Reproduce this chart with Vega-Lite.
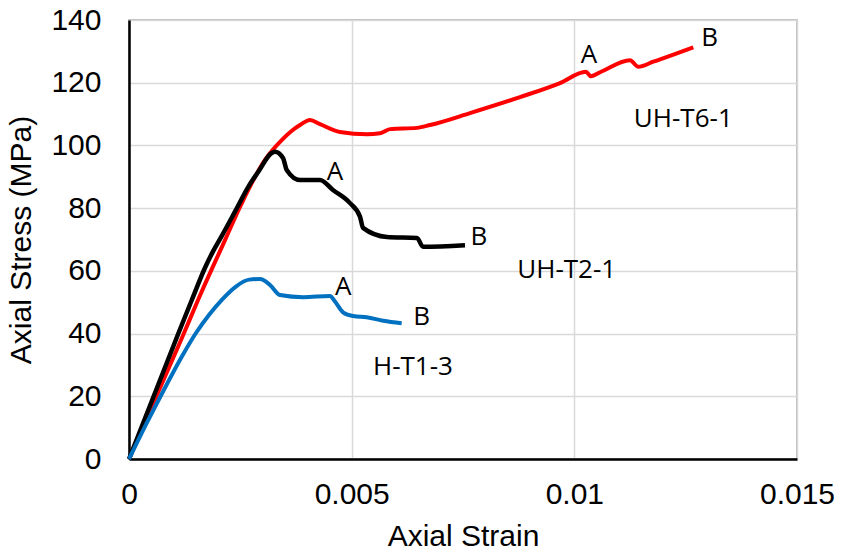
{
  "$schema": "https://vega.github.io/schema/vega-lite/v6.json",
  "width": 668,
  "height": 439,
  "autosize": "none",
  "padding": {"left": 129, "top": 20, "right": 46, "bottom": 100},
  "background": "white",
  "config": {
    "view": {"stroke": "#a6a6a6", "strokeWidth": 1.5},
    "axis": {
      "labelFont": "Liberation Sans",
      "titleFont": "Liberation Sans",
      "labelFontSize": 30,
      "titleFontSize": 30,
      "labelColor": "#000000",
      "titleColor": "#000000",
      "titleFontWeight": "normal",
      "ticks": false,
      "gridColor": "#d9d9d9",
      "gridWidth": 1.5,
      "domainColor": "#000000",
      "domainWidth": 2.5
    }
  },
  "datasets": {
    "curves": [
      {"series": "UH-T6-1", "strain": 0, "stress": 0},
      {"series": "UH-T6-1", "strain": 0.0012, "stress": 39.0},
      {"series": "UH-T6-1", "strain": 0.00155, "stress": 50.7},
      {"series": "UH-T6-1", "strain": 0.002156, "stress": 69.8},
      {"series": "UH-T6-1", "strain": 0.00253, "stress": 81.5},
      {"series": "UH-T6-1", "strain": 0.003054, "stress": 95.4},
      {"series": "UH-T6-1", "strain": 0.003429, "stress": 101.7},
      {"series": "UH-T6-1", "strain": 0.00365, "stress": 104.6},
      {"series": "UH-T6-1", "strain": 0.00384, "stress": 106.5},
      {"series": "UH-T6-1", "strain": 0.004064, "stress": 108.1},
      {"series": "UH-T6-1", "strain": 0.004289, "stress": 106.8},
      {"series": "UH-T6-1", "strain": 0.004738, "stress": 104.3},
      {"series": "UH-T6-1", "strain": 0.005344, "stress": 103.6},
      {"series": "UH-T6-1", "strain": 0.005636, "stress": 103.9},
      {"series": "UH-T6-1", "strain": 0.005861, "stress": 105.2},
      {"series": "UH-T6-1", "strain": 0.006467, "stress": 105.6},
      {"series": "UH-T6-1", "strain": 0.006759, "stress": 106.5},
      {"series": "UH-T6-1", "strain": 0.007657, "stress": 110.3},
      {"series": "UH-T6-1", "strain": 0.00878, "stress": 115.4},
      {"series": "UH-T6-1", "strain": 0.009678, "stress": 119.9},
      {"series": "UH-T6-1", "strain": 0.01026, "stress": 123.5},
      {"series": "UH-T6-1", "strain": 0.01037, "stress": 122.1},
      {"series": "UH-T6-1", "strain": 0.0106, "stress": 123.5},
      {"series": "UH-T6-1", "strain": 0.01125, "stress": 127.2},
      {"series": "UH-T6-1", "strain": 0.011437, "stress": 125.1},
      {"series": "UH-T6-1", "strain": 0.011773, "stress": 126.7},
      {"series": "UH-T6-1", "strain": 0.012672, "stress": 131.3},
      {"series": "UH-T2-1", "strain": 0, "stress": 0},
      {"series": "UH-T2-1", "strain": 0.00111, "stress": 40.1},
      {"series": "UH-T2-1", "strain": 0.00141, "stress": 50.7},
      {"series": "UH-T2-1", "strain": 0.001707, "stress": 61.0},
      {"series": "UH-T2-1", "strain": 0.00189, "stress": 66.3},
      {"series": "UH-T2-1", "strain": 0.002081, "stress": 71.1},
      {"series": "UH-T2-1", "strain": 0.00238, "stress": 78.9},
      {"series": "UH-T2-1", "strain": 0.002679, "stress": 86.8},
      {"series": "UH-T2-1", "strain": 0.002904, "stress": 91.6},
      {"series": "UH-T2-1", "strain": 0.003204, "stress": 97.6},
      {"series": "UH-T2-1", "strain": 0.003278, "stress": 98.0},
      {"series": "UH-T2-1", "strain": 0.003458, "stress": 96.0},
      {"series": "UH-T2-1", "strain": 0.003541, "stress": 92.2},
      {"series": "UH-T2-1", "strain": 0.00384, "stress": 89.0},
      {"series": "UH-T2-1", "strain": 0.004289, "stress": 89.0},
      {"series": "UH-T2-1", "strain": 0.00458, "stress": 85.8},
      {"series": "UH-T2-1", "strain": 0.004963, "stress": 81.6},
      {"series": "UH-T2-1", "strain": 0.005187, "stress": 77.3},
      {"series": "UH-T2-1", "strain": 0.005255, "stress": 73.7},
      {"series": "UH-T2-1", "strain": 0.005793, "stress": 70.8},
      {"series": "UH-T2-1", "strain": 0.006467, "stress": 70.5},
      {"series": "UH-T2-1", "strain": 0.006602, "stress": 67.7},
      {"series": "UH-T2-1", "strain": 0.007545, "stress": 68.2},
      {"series": "H-T1-3", "strain": 0, "stress": 0},
      {"series": "H-T1-3", "strain": 0.0004, "stress": 11.5},
      {"series": "H-T1-3", "strain": 0.0008, "stress": 22.5},
      {"series": "H-T1-3", "strain": 0.0012, "stress": 33.0},
      {"series": "H-T1-3", "strain": 0.0015, "stress": 40.1},
      {"series": "H-T1-3", "strain": 0.0018, "stress": 46.0},
      {"series": "H-T1-3", "strain": 0.0021, "stress": 51.0},
      {"series": "H-T1-3", "strain": 0.0024, "stress": 55.0},
      {"series": "H-T1-3", "strain": 0.0027, "stress": 57.2},
      {"series": "H-T1-3", "strain": 0.002942, "stress": 57.4},
      {"series": "H-T1-3", "strain": 0.003166, "stress": 55.5},
      {"series": "H-T1-3", "strain": 0.00339, "stress": 52.3},
      {"series": "H-T1-3", "strain": 0.003914, "stress": 51.6},
      {"series": "H-T1-3", "strain": 0.004513, "stress": 52.0},
      {"series": "H-T1-3", "strain": 0.004626, "stress": 50.2},
      {"series": "H-T1-3", "strain": 0.004813, "stress": 46.7},
      {"series": "H-T1-3", "strain": 0.005037, "stress": 45.6},
      {"series": "H-T1-3", "strain": 0.005337, "stress": 45.2},
      {"series": "H-T1-3", "strain": 0.00571, "stress": 44.1},
      {"series": "H-T1-3", "strain": 0.006123, "stress": 43.3}
    ],
    "labels": [
      {"strain": 0.010329, "stress": 126.3, "label": "A"},
      {"strain": 0.013038, "stress": 131.7, "label": "B"},
      {"strain": 0.012447, "stress": 106.0, "label": "UH-T6-1"},
      {"strain": 0.004626, "stress": 89.0, "label": "A"},
      {"strain": 0.007859, "stress": 68.2, "label": "B"},
      {"strain": 0.009829, "stress": 57.7, "label": "UH-T2-1"},
      {"strain": 0.004813, "stress": 52.3, "label": "A"},
      {"strain": 0.006573, "stress": 42.7, "label": "B"},
      {"strain": 0.006377, "stress": 26.8, "label": "H-T1-3"}
    ]
  },
  "encoding": {
    "x": {
      "field": "strain",
      "type": "quantitative",
      "scale": {"domain": [0, 0.015], "nice": false, "zero": false},
      "axis": {"title": "Axial Strain", "values": [0, 0.005, 0.01, 0.015], "format": ".3~f", "labelPadding": 20, "titlePadding": 12, "labelFlush": false}
    },
    "y": {
      "field": "stress",
      "type": "quantitative",
      "scale": {"domain": [0, 140], "nice": false},
      "axis": {"title": "Axial Stress (MPa)", "values": [0, 20, 40, 60, 80, 100, 120, 140], "labelPadding": 28, "titlePadding": 14}
    }
  },
  "layer": [
    {
      "data": {"name": "curves"},
      "transform": [{"filter": "datum.series == 'UH-T6-1'"}],
      "mark": {"type": "line", "color": "#ff0000", "strokeWidth": 4, "interpolate": "monotone"}
    },
    {
      "data": {"name": "curves"},
      "transform": [{"filter": "datum.series == 'UH-T2-1'"}],
      "mark": {"type": "line", "color": "#000000", "strokeWidth": 4.5, "interpolate": "monotone"}
    },
    {
      "data": {"name": "curves"},
      "transform": [{"filter": "datum.series == 'H-T1-3'"}],
      "mark": {"type": "line", "color": "#0070c0", "strokeWidth": 4, "interpolate": "monotone"}
    },
    {
      "data": {"name": "labels"},
      "mark": {"type": "text", "font": "Open Sans", "fontSize": 26, "color": "#000000", "align": "center", "baseline": "alphabetic"},
      "encoding": {"text": {"field": "label"}}
    }
  ]
}
